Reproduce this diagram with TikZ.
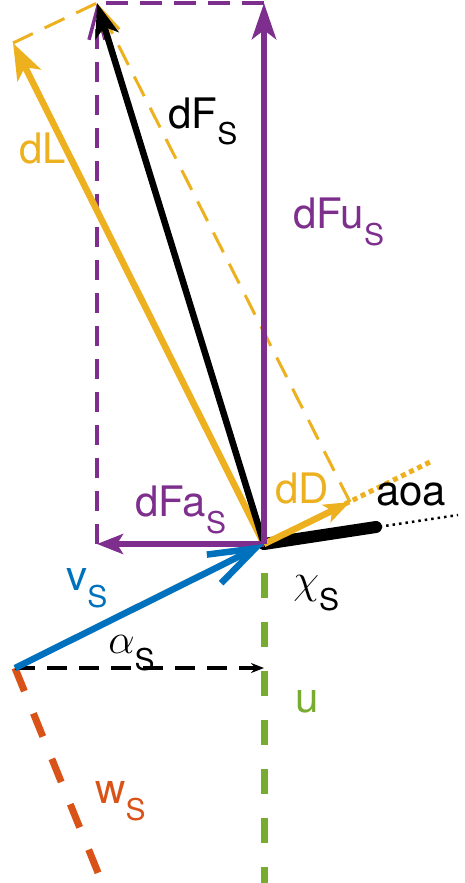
\documentclass[tikz,border=0pt]{standalone}
\usepackage{fix-cm}
\usepackage{fontspec}
\setmainfont{TeX Gyre Heros}
\usetikzlibrary{arrows.meta}
\definecolor{mpurple}{RGB}{126,47,142}
\definecolor{myellow}{RGB}{237,177,32}
\definecolor{mblue}{RGB}{0,114,189}
\definecolor{mgreen}{RGB}{119,172,48}
\definecolor{morange}{RGB}{217,83,25}
\newcommand{\sub}[1]{\raisebox{-17pt}{\fontsize{30}{30}\selectfont #1}}

\begin{document}
\begin{tikzpicture}[x=1pt,y=-1pt,line width=6.5pt,font=\fontsize{42}{42}\selectfont,
		lbl/.style={inner sep=0pt,anchor=base west}]
	\useasboundingbox (0,0) rectangle (465,883);
	\coordinate (O) at (264,544);
	\coordinate (Fu) at (264,3);
	\coordinate (Fa) at (97,544);
	\coordinate (F) at (97,3);
	\coordinate (L) at (13,43);
	\coordinate (D) at (350,502);
	\coordinate (Dx) at (430,462);
	\coordinate (C) at (376,527);
	\coordinate (Cx) at (458,515);
	\coordinate (V) at (15,668);
	\coordinate (H) at (264,668);
	\coordinate (U) at (264,883);
	\coordinate (W) at (101,880);
	\draw[morange,line width=7pt,dash pattern=on 25pt off 24pt] (V) -- (W);
	\draw[mgreen,line width=7pt,dash pattern=on 25pt off 24pt,dash phase=20pt] (O) -- (U);
	\draw[line width=3.5pt,dash pattern=on 20pt off 12pt,-{Stealth[length=13pt,width=10pt]}] (V) -- (H);
	\draw[mpurple,line width=3.5pt,dash pattern=on 20pt off 13pt,-{Straight Barb[length=30pt,width=16pt]}] (Fa) -- (F);
	\draw[mpurple,line width=3.5pt,dash pattern=on 22pt off 12pt] (Fu) -- (F);
	\draw[myellow,line width=3pt,dash pattern=on 22pt off 13pt] (L) -- (F);
	\draw[myellow,line width=3pt,dash pattern=on 22pt off 13pt,-{Straight Barb[length=28pt,width=16pt]}] (D) -- (F);
	\draw[line width=2.5pt,dash pattern=on 2.5pt off 4pt] (O) -- (Cx);
	\draw[line width=12pt,line cap=round] (O) -- (C);
	\draw[myellow,line width=5pt,dash pattern=on 5pt off 4pt] (O) -- (Dx);
	\draw[myellow,-{Stealth[length=36pt,width=26pt,inset=9pt]}] (O) -- (L);
	\draw[-{Stealth[length=34pt,width=24pt,inset=9pt]}] (O) -- (F);
	\draw[myellow,-{Stealth[length=26pt,width=19pt,inset=6pt]}] (O) -- (D);
	\draw[mpurple,-{Stealth[length=36pt,width=24pt,inset=9pt]}] (O) -- (Fu);
	\draw[mpurple,-{Stealth[length=26pt,width=20pt,inset=6pt]}] (O) -- (Fa);
	\draw[mblue,-{Straight Barb[length=46pt,width=32pt]}] (V) -- (O);
	\node[lbl] (dFs) at (165,128) {dF\sub{S}};
	\node[lbl,myellow] (dL) at (16,163) {dL};
	\node[lbl,mpurple] (dFus) at (290,228) {dFu\sub{S}};
	\node[lbl,mpurple] (dFas) at (132,516) {dFa\sub{S}};
	\node[lbl,myellow] (dD) at (272,503) {dD};
	\node[lbl] (aoa) at (373,505) {aoa};
	\node[lbl] (chi) at (290,593) {$\chi$\sub{S}};
	\node[lbl,mgreen] (u) at (292,712) {u};
	\node[lbl,mblue] (vs) at (63,590) {v\sub{S}};
	\node[lbl] (alpha) at (105,653) {$\alpha$\sub{S}};
	\node[lbl,morange] (ws) at (92,803) {w\sub{S}};
\end{tikzpicture}
\end{document}
